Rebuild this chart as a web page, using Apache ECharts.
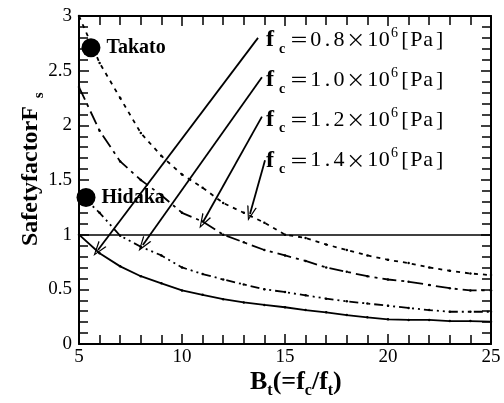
<!DOCTYPE html>
<html>
<head>
<meta charset="utf-8">
<script src="https://cdn.jsdelivr.net/npm/echarts@6/dist/echarts.min.js"></script>
<style>
  html, body { margin: 0; padding: 0; background: #fff; }
  #chart { width: 504px; height: 403px; }
</style>
</head>
<body>
<div id="chart"></div>
<script>
// Bearing ratio B_t = f_c / f_t
const bt = [5, 6, 7, 8, 9, 10, 11, 12, 13, 14, 15, 16, 17, 18, 19, 20, 21, 22, 23, 24, 25];

// Safety factor F_s for each compressive strength f_c
const fs08 = [1.0, 0.83, 0.71, 0.62, 0.555, 0.49, 0.45, 0.41, 0.38, 0.357, 0.336, 0.31, 0.29, 0.265, 0.244, 0.226, 0.22, 0.22, 0.21, 0.21, 0.204];
const fs10 = [1.38, 1.2, 0.99, 0.89, 0.81, 0.70, 0.64, 0.59, 0.545, 0.50, 0.475, 0.445, 0.415, 0.39, 0.37, 0.35, 0.33, 0.31, 0.295, 0.295, 0.295];
const fs12 = [2.35, 1.95, 1.67, 1.5, 1.36, 1.2, 1.12, 1.0, 0.93, 0.86, 0.81, 0.76, 0.70, 0.66, 0.62, 0.59, 0.57, 0.54, 0.51, 0.49, 0.49];
const fs14 = [3.0, 2.57, 2.25, 1.93, 1.72, 1.55, 1.43, 1.29, 1.2, 1.11, 1.0, 0.97, 0.91, 0.86, 0.81, 0.77, 0.74, 0.70, 0.67, 0.645, 0.63];

// Field sites
const siteNames = ['Takato', 'Hidaka'];
const siteBt = [5.58, 5.34];
const siteFs = [2.71, 1.34];

// Critical safety factor
const criticalFs = 1.0;

// Curve labels (f_c values) and leader arrows
const fcLabels = ['0.8', '1.0', '1.2', '1.4'];
const leaderStart = [[13.69, 2.80], [13.88, 2.44], [13.88, 2.08], [14.03, 1.68]];
const leaderTip = [[5.92, 0.86], [8.1, 0.905], [11.02, 1.116], [13.3, 1.19]];
const labelAnchor = [[14.08, 2.78], [14.08, 2.415], [14.08, 2.05], [14.08, 1.68]];

const xTicks = [5, 10, 15, 20, 25];
const yTicks = [0, 0.5, 1, 1.5, 2, 2.5, 3];

const serif = '"Liberation Serif", "Times New Roman", serif';
const cjk = '"Noto Sans CJK JP", sans-serif';
const zip = (xs, ys) => xs.map((x, i) => [x, ys[i]]);

const chart = echarts.init(document.getElementById('chart'));

function axisParts() {
  return {
    axisLine: { show: true, onZero: false, lineStyle: { color: '#000', width: 2 } },
    axisTick: { show: true, inside: true, length: 10, lineStyle: { color: '#000', width: 1.5 } },
    minorTick: { show: true, splitNumber: 5, length: 9, lineStyle: { color: '#000', width: 1.5 } },
    splitLine: { show: false }
  };
}

const arrowHead = 'path://M5,0 L10,13 L8.6,13 L5,3 L1.4,13 L0,13 Z';

// Half-width cell layout for the f_c annotations
const fcRich = {
  f: { fontFamily: serif, fontSize: 24, fontWeight: 'bold', color: '#000', width: 11 },
  c: { fontFamily: serif, fontSize: 14, fontWeight: 'bold', color: '#000', padding: [18, 0, 0, 2], width: 9 },
  w: { fontFamily: cjk, fontSize: 19, color: '#000', width: 22, align: 'center' },
  d: { fontFamily: serif, fontSize: 22, color: '#000', width: 11.6, align: 'center' },
  s: { fontFamily: serif, fontSize: 14, color: '#000', padding: [0, 0, 14, 0], width: 9, align: 'center' }
};
const cells = str => str.split('').map(ch => '{d|' + ch + '}').join('');
const fcText = v => '{f|f}{c|c}{w|＝}' + cells(v) + '{w|×}' + cells('10') + '{s|6}' + cells('[Pa]');

const curveStyles = [
  { data: fs08, type: 'solid' },
  { data: fs10, type: [9, 4, 2, 4, 2, 4] },
  { data: fs12, type: [14, 5, 3, 5] },
  { data: fs14, type: [4, 5] }
];

const series = curveStyles.map(c => ({
  type: 'line',
  data: zip(bt, c.data),
  showSymbol: true,
  symbol: 'circle',
  symbolSize: 2.5,
  itemStyle: { color: '#000' },
  lineStyle: { color: '#000', width: 1.8, type: c.type },
  silent: true,
  z: 3
}));

// Reference line, leader arrows and f_c annotations
series.push({
  type: 'line',
  data: [],
  silent: true,
  markLine: {
    silent: true,
    animation: false,
    label: { show: false },
    symbol: ['none', 'none'],
    data: [
      [{ coord: [bt[0], criticalFs], lineStyle: { type: 'solid', width: 1.5, color: '#000' } },
       { coord: [bt[bt.length - 1], criticalFs] }]
    ].concat(leaderStart.map((s, i) => [
      { coord: s, symbol: 'none', lineStyle: { type: 'solid', width: 1.8, color: '#000' } },
      { coord: leaderTip[i], symbol: arrowHead, symbolSize: [10, 15] }
    ]))
  },
  markPoint: {
    silent: true,
    animation: false,
    data: fcLabels.map((v, i) => ({
      coord: labelAnchor[i],
      symbol: 'circle',
      symbolSize: 0.01,
      label: {
        show: true,
        position: 'right',
        distance: 0,
        formatter: fcText(v),
        rich: fcRich
      }
    }))
  }
});

// Site markers
series.push({
  type: 'scatter',
  data: zip(siteBt, siteFs).map((p, i) => ({ value: p, name: siteNames[i] })),
  symbolSize: 19,
  itemStyle: { color: '#000', opacity: 1 },
  label: {
    show: true,
    position: 'right',
    distance: 6,
    formatter: p => p.name,
    fontFamily: serif,
    fontSize: 20,
    fontWeight: 'bold',
    color: '#000'
  },
  silent: true,
  z: 5
});

chart.setOption({
  animation: false,
  backgroundColor: '#fff',
  grid: { left: 79, right: 13, top: 16, bottom: 59 },
  xAxis: [
    Object.assign({
      type: 'value', min: xTicks[0], max: xTicks[xTicks.length - 1], interval: 5,
      axisLabel: { fontFamily: serif, fontSize: 19, color: '#000', margin: 4 }
    }, axisParts()),
    Object.assign({
      type: 'value', position: 'top', min: xTicks[0], max: xTicks[xTicks.length - 1], interval: 5,
      axisLabel: { show: false }
    }, axisParts())
  ],
  yAxis: [
    Object.assign({
      type: 'value', min: yTicks[0], max: yTicks[yTicks.length - 1], interval: 0.5,
      axisLabel: { fontFamily: serif, fontSize: 19, color: '#000', margin: 7 }
    }, axisParts()),
    Object.assign({
      type: 'value', position: 'right', min: yTicks[0], max: yTicks[yTicks.length - 1], interval: 0.5,
      axisLabel: { show: false }
    }, axisParts())
  ],
  graphic: [
    {
      type: 'text',
      left: 250, top: 369,
      style: {
        text: '{m|B}{b|t}{m|(=f}{b|c}{m|/f}{b|t}{m|)}',
        rich: {
          m: { fontFamily: serif, fontSize: 26, fontWeight: 'bold', fill: '#000' },
          b: { fontFamily: serif, fontSize: 16, fontWeight: 'bold', fill: '#000', padding: [18, 0, 0, 0] }
        }
      }
    },
    {
      type: 'text',
      x: 14, y: 246,
      rotation: Math.PI / 2,
      style: {
        text: '{m|SafetyfactorF}{b| s}',
        rich: {
          m: { fontFamily: serif, fontSize: 24, fontWeight: 'bold', fill: '#000' },
          b: { fontFamily: serif, fontSize: 15, fontWeight: 'bold', fill: '#000', padding: [18, 0, 0, 4] }
        }
      }
    }
  ],
  series
});
</script>
</body>
</html>
